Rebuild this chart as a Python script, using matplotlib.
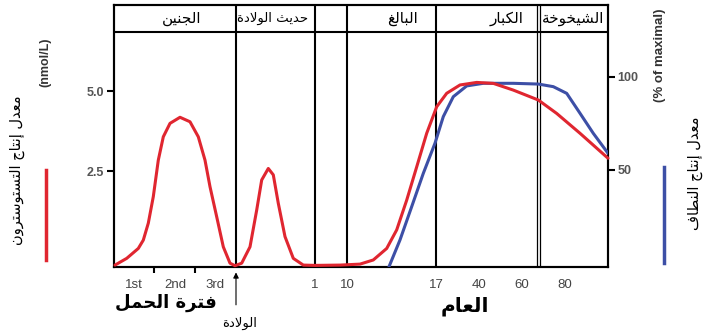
import matplotlib
matplotlib.use('Agg')
import matplotlib.pyplot as plt
from matplotlib.transforms import blended_transform_factory

# x positions are in "position units" along the age axis (0 = conception, 494 = right edge)
periods = ['الجنين', 'حديث الولادة', 'البالغ', 'الكبار', 'الشيخوخة']
period_x = [68, 159, 289, 393, 459]
dividers = [122, 201, 233, 322]
old_age_divider = 424

tick_pos = [20, 61, 101, 201, 233, 322, 365, 408, 451]
tick_labels = ['1st', '2nd', '3rd', '1', '10', '17', '40', '60', '80']
minor_pos = [40, 81, 201, 233, 322, 365, 408, 451]

# testosterone production (nmol/L)
testo_x = [1, 12.7, 24.3, 29.3, 34.3, 39.3, 44.3, 49.3, 56, 66, 76, 84.3, 91, 96,
           102.7, 109.3, 116, 121,
           127.7, 136, 142.7, 147.7, 154.3, 159.3, 164.3, 171, 179.3, 189.3,
           201, 226, 246, 259.3, 272.7, 282.7, 292.7, 302.7, 312.7, 322.7, 332.7,
           346, 362.7, 379.3, 399.3, 424.3, 442.7, 466, 494]
testo_y = [-0.44, -0.23, 0.08, 0.34, 0.87, 1.70, 2.84, 3.57, 3.99, 4.18, 4.04, 3.57,
           2.84, 2.01, 1.07, 0.13, -0.38, -0.46,
           -0.38, 0.13, 1.28, 2.22, 2.58, 2.38, 1.49, 0.45, -0.23, -0.44,
           -0.45, -0.44, -0.41, -0.28, 0.08, 0.66, 1.59, 2.63, 3.68, 4.51, 4.93,
           5.19, 5.27, 5.24, 5.03, 4.72, 4.30, 3.68, 2.90]

# sperm production (% of maximal)
sperm_x = [275, 286, 297.7, 309.3, 321, 329.3, 339.3, 352.7, 369.3, 399.3, 424.3,
           439.3, 452.7, 466, 479.3, 494]
sperm_y = [-2, 12.4, 30.3, 48.2, 64.4, 78.7, 89.4, 95.2, 96.6, 96.6, 96.2, 94.8,
           91.2, 80.5, 69.7, 59.0]

# --- minimal Arabic shaping (presentation forms, then reversed for display) ---
FORMS = {
    'ا': ('\uFE8D', '\uFE8E', None, None),
    'إ': ('\uFE87', '\uFE88', None, None),
    'ب': ('\uFE8F', '\uFE90', '\uFE91', '\uFE92'),
    'ة': ('\uFE93', '\uFE94', None, None),
    'ت': ('\uFE95', '\uFE96', '\uFE97', '\uFE98'),
    'ث': ('\uFE99', '\uFE9A', '\uFE9B', '\uFE9C'),
    'ج': ('\uFE9D', '\uFE9E', '\uFE9F', '\uFEA0'),
    'ح': ('\uFEA1', '\uFEA2', '\uFEA3', '\uFEA4'),
    'خ': ('\uFEA5', '\uFEA6', '\uFEA7', '\uFEA8'),
    'د': ('\uFEA9', '\uFEAA', None, None),
    'ر': ('\uFEAD', '\uFEAE', None, None),
    'س': ('\uFEB1', '\uFEB2', '\uFEB3', '\uFEB4'),
    'ش': ('\uFEB5', '\uFEB6', '\uFEB7', '\uFEB8'),
    'ط': ('\uFEC1', '\uFEC2', '\uFEC3', '\uFEC4'),
    'ع': ('\uFEC9', '\uFECA', '\uFECB', '\uFECC'),
    'غ': ('\uFECD', '\uFECE', '\uFECF', '\uFED0'),
    'ف': ('\uFED1', '\uFED2', '\uFED3', '\uFED4'),
    'ك': ('\uFED9', '\uFEDA', '\uFEDB', '\uFEDC'),
    'ل': ('\uFEDD', '\uFEDE', '\uFEDF', '\uFEE0'),
    'م': ('\uFEE1', '\uFEE2', '\uFEE3', '\uFEE4'),
    'ن': ('\uFEE5', '\uFEE6', '\uFEE7', '\uFEE8'),
    'و': ('\uFEED', '\uFEEE', None, None),
    'ي': ('\uFEF1', '\uFEF2', '\uFEF3', '\uFEF4'),
}
LAMALEF = {'ا': ('\uFEFB', '\uFEFC'), 'إ': ('\uFEF9', '\uFEFA')}


def shape(s):
    out = []
    i = 0
    while i < len(s):
        c = s[i]
        if c not in FORMS:
            out.append(c)
            i += 1
            continue
        prev = s[i - 1] if i > 0 else ''
        link_prev = prev in FORMS and FORMS[prev][2] is not None
        nxt = s[i + 1] if i + 1 < len(s) else ''
        if c == 'ل' and nxt in LAMALEF:
            out.append(LAMALEF[nxt][1] if link_prev else LAMALEF[nxt][0])
            i += 2
            continue
        link_next = FORMS[c][2] is not None and nxt in FORMS
        iso, fin, ini, med = FORMS[c]
        if link_prev and link_next:
            out.append(med)
        elif link_prev:
            out.append(fin)
        elif link_next:
            out.append(ini)
        else:
            out.append(iso)
        i += 1
    return ''.join(out)[::-1]


plt.rcParams['font.family'] = ['Liberation Sans', 'DejaVu Sans']

red = '#e02630'
blue = '#3d4fa6'

fig = plt.figure(figsize=(7.21, 3.32), dpi=100)
ax = fig.add_axes([114 / 721, 65 / 332, 494 / 721, 262 / 332])
ax.set_xlim(0, 494)
ax.set_ylim(-0.5, 7.69)

ax2 = ax.twinx()
ax2.set_ylim(-2.15, 138.7)

# header band and period dividers
ax.axhline(6.84, color='black', lw=1.5)
for d in dividers:
    ax.axvline(d, color='black', lw=1.5)
ax.axvline(old_age_divider - 1.5, color='black', lw=0.9)
ax.axvline(old_age_divider + 1.5, color='black', lw=0.9)
for name, px in zip(periods, period_x):
    # the newborn box is narrow, so its two-word label is set smaller
    size = 9.5 if ' ' in name else 11
    ax.text(px, 7.27, shape(name), ha='center', va='center', fontsize=size,
            family='DejaVu Sans')

# curves
ax2.plot(sperm_x, sperm_y, color=blue, lw=2.2, zorder=3,
         solid_joinstyle='round', solid_capstyle='round')
ax2.plot(testo_x, testo_y, color=red, lw=2.2, zorder=4, clip_on=False,
         transform=ax.transData, solid_joinstyle='round', solid_capstyle='round')

for sp in ax.spines.values():
    sp.set_linewidth(1.5)
for sp in ax2.spines.values():
    sp.set_linewidth(1.5)

ax.set_yticks([2.5, 5.0], ['2.5', '5.0'])
ax.tick_params(axis='y', length=5, width=1.5, labelsize=9, labelcolor='#555555',
               pad=2)
for lab in ax.get_yticklabels():
    lab.set_fontweight('bold')
ax2.set_yticks([50, 100], ['50', '100'])
ax2.tick_params(axis='y', length=5, width=1.5, labelsize=9, labelcolor='#555555',
                pad=2)
for lab in ax2.get_yticklabels():
    lab.set_fontweight('bold')

ax.set_xticks(tick_pos, tick_labels)
ax.set_xticks(minor_pos, minor=True)
ax.tick_params(axis='x', which='major', length=0, pad=9, labelsize=9.5,
               labelcolor='#444444')
ax.tick_params(axis='x', which='minor', length=4, width=1.5)

# axis unit labels
fig.text(45 / 721, 1 - 62 / 332, '(nmol/L)', rotation=90, ha='center', va='center',
         fontsize=9, fontweight='bold', color='#333333')
fig.text(660 / 721, 1 - 55 / 332, '(% of maximal)', rotation=90, ha='center',
         va='center', fontsize=9.5, fontweight='bold', color='#333333')

# side legends
fig.text(17 / 721, 1 - 170 / 332, shape('معدل إنتاج التستوسترون'), rotation=90,
         ha='center', va='center', fontsize=10.5, family='DejaVu Sans')
fig.text(695 / 721, 1 - 173 / 332, shape('معدل إنتاج النطاف'), rotation=90,
         ha='center', va='center', fontsize=10.5, family='DejaVu Sans')
fig.add_artist(plt.Line2D([46 / 721, 46 / 721], [1 - 170 / 332, 1 - 260 / 332],
                          color=red, lw=2.5))
fig.add_artist(plt.Line2D([664 / 721, 664 / 721], [1 - 167 / 332, 1 - 263 / 332],
                          color=blue, lw=2.5))

# bottom labels
trans = blended_transform_factory(ax.transData, ax.transAxes)
ax.text(52, -0.137, shape('فترة الحمل'), transform=trans, ha='center', va='center',
        fontsize=13, fontweight='bold', family='DejaVu Sans')
ax.text(351, -0.149, shape('العام'), transform=trans, ha='center', va='center',
        fontsize=14.5, fontweight='bold', family='DejaVu Sans')
ax.text(126, -0.214, shape('الولادة'), transform=trans, ha='center', va='center',
        fontsize=9.5, family='DejaVu Sans')
ax.annotate('', xy=(122, -0.01), xycoords=trans, xytext=(122, -0.155),
            textcoords=trans,
            arrowprops=dict(arrowstyle='-|>', color='black', lw=0.8,
                            mutation_scale=8))

fig.savefig('out.png', dpi=100)
